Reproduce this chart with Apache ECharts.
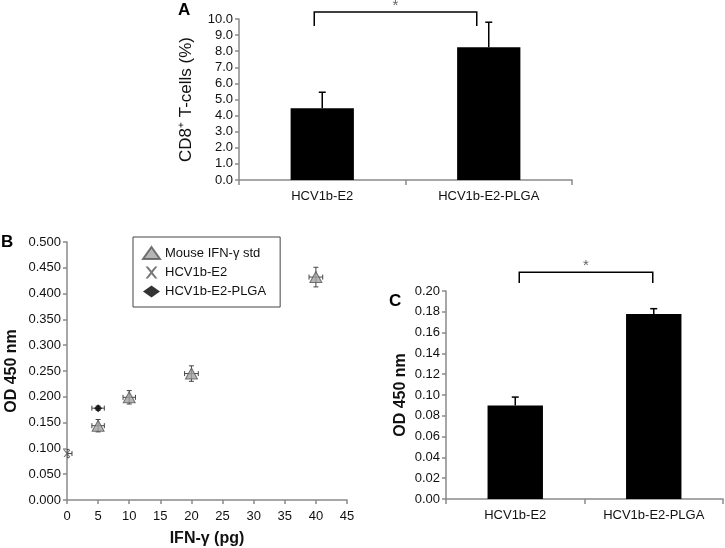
<!DOCTYPE html>
<html>
<head>
<meta charset="utf-8">
<script src="https://cdn.jsdelivr.net/npm/echarts@6/dist/echarts.min.js"></script>
<style>html,body{margin:0;padding:0;background:#fff}#c{width:725px;height:548px}</style>
</head>
<body>
<div id="c"></div>
<script>
// ---- Panel A data ----
const A_categories = ['HCV1b-E2', 'HCV1b-E2-PLGA'];
const A_values = [4.45, 8.25];
const A_errors = [1.0, 1.55];
const A_bracket = [10.43, 9.57]; // top level, drop level
const A_ticks = [0, 10, 1];

// ---- Panel B data ----
const B_stdX = [5, 10, 20, 40];
const B_stdY = [0.144, 0.199, 0.245, 0.432];
const B_stdXErr = [1.0, 1.0, 1.1, 1.1];
const B_stdYErr = [0.012, 0.013, 0.015, 0.019];
const B_e2X = [0];
const B_e2Y = [0.090];
const B_e2XErr = [0.8];
const B_e2YErr = [0.008];
const B_plgaX = [5];
const B_plgaY = [0.178];
const B_plgaXErr = [1.0];
const B_plgaYErr = [0.004];
const B_names = ['Mouse IFN-\u03b3 std', 'HCV1b-E2', 'HCV1b-E2-PLGA'];

// ---- Panel C data ----
const C_categories = ['HCV1b-E2', 'HCV1b-E2-PLGA'];
const C_values = [0.090, 0.178];
const C_errors = [0.008, 0.005];
const C_bracket = [0.218, 0.2077];

const FONT = "'Liberation Sans', Arial, sans-serif";
const AX = '#8a8a8a';
const TXT = '#111';

function zip(xs, ys, xe, ye) { return xs.map((x, i) => [x, ys[i], xe[i], ye[i]]); }

function barErr(api) {
  const i = api.value(0), v = api.value(1), e = api.value(2);
  const p0 = api.coord([i, v]);
  const p1 = api.coord([i, v + e]);
  return { type: 'group', children: [
    { type: 'line', shape: { x1: p0[0], y1: p0[1], x2: p1[0], y2: p1[1] }, style: { stroke: '#000', lineWidth: 1.5 } },
    { type: 'line', shape: { x1: p1[0] - 3.5, y1: p1[1], x2: p1[0] + 3.5, y2: p1[1] }, style: { stroke: '#000', lineWidth: 1.5 } }
  ]};
}
function bracket(offL, offR) {
  return function (params, api) {
    const top = api.value(0), low = api.value(1);
    const a = api.coord([0, low]), b = api.coord([0, top]);
    const c = api.coord([1, top]), d = api.coord([1, low]);
    const xl = a[0] + offL, xr = d[0] + offR;
    return { type: 'group', children: [
      { type: 'polyline', shape: { points: [[xl, a[1]], [xl, b[1]], [xr, c[1]], [xr, d[1]]] }, style: { stroke: '#000', lineWidth: 1.5, fill: null } },
      { type: 'text', x: (xl + xr) / 2, y: b[1] + 1, style: { text: '*', fill: '#666', font: '15px ' + FONT, align: 'center', verticalAlign: 'bottom' } }
    ]};
  };
}
function xyErr(params, api) {
  const x = api.value(0), y = api.value(1), ex = api.value(2), ey = api.value(3);
  const L = api.coord([x - ex, y]), R = api.coord([x + ex, y]);
  const T = api.coord([x, y + ey]), B = api.coord([x, y - ey]);
  const s = { stroke: '#444', lineWidth: 1 };
  const k = 2.5;
  return { type: 'group', children: [
    { type: 'line', shape: { x1: L[0], y1: L[1], x2: R[0], y2: R[1] }, style: s },
    { type: 'line', shape: { x1: L[0], y1: L[1] - k, x2: L[0], y2: L[1] + k }, style: s },
    { type: 'line', shape: { x1: R[0], y1: R[1] - k, x2: R[0], y2: R[1] + k }, style: s },
    { type: 'line', shape: { x1: T[0], y1: T[1], x2: B[0], y2: B[1] }, style: s },
    { type: 'line', shape: { x1: T[0] - k, y1: T[1], x2: T[0] + k, y2: T[1] }, style: s },
    { type: 'line', shape: { x1: B[0] - k, y1: B[1], x2: B[0] + k, y2: B[1] }, style: s }
  ]};
}

const axisLine = { show: true, lineStyle: { color: AX, width: 1.5 } };
const axisTick = { show: true, length: 4, lineStyle: { color: AX, width: 1.5 } };
const lbl = (fmt) => ({ color: TXT, fontSize: 13, fontFamily: FONT, formatter: fmt });

const XSYM = 'path://M0,0 L2,0 L5,3.6 L8,0 L10,0 L6,5 L10,10 L8,10 L5,6.4 L2,10 L0,10 L4,5 Z';

const option = {
  animation: false,
  textStyle: { fontFamily: FONT },
  grid: [
    { left: 239, right: 153, top: 19, bottom: 368 },
    { left: 67, right: 378, top: 242, bottom: 47.5 },
    { left: 446, right: 2, top: 291, bottom: 49 }
  ],
  legend: {
    left: 133, top: 237, orient: 'vertical',
    data: B_names,
    borderColor: '#444', borderWidth: 1, borderRadius: 0,
    padding: [9, 14, 9, 9], itemGap: 6, itemWidth: 17, itemHeight: 12,
    textStyle: { fontSize: 13, color: TXT, fontFamily: FONT }
  },
  xAxis: [
    { gridIndex: 0, type: 'category', data: A_categories, axisLine, axisTick: { ...axisTick, length: 5 }, axisLabel: { ...lbl(), margin: 10 } },
    { gridIndex: 1, type: 'value', min: 0, max: 45, interval: 5, splitLine: { show: false }, axisLine, axisTick, axisLabel: { ...lbl(), margin: 10 },
      name: 'IFN-\u03b3 (pg)', nameLocation: 'middle', nameGap: 31, nameTextStyle: { fontSize: 16, fontWeight: 'bold', color: TXT, fontFamily: FONT } },
    { gridIndex: 2, type: 'category', data: C_categories, axisLine, axisTick: { ...axisTick, length: 5 }, axisLabel: { ...lbl(), margin: 10 } }
  ],
  yAxis: [
    { gridIndex: 0, type: 'value', min: A_ticks[0], max: A_ticks[1], interval: A_ticks[2], splitLine: { show: false }, axisLine, axisTick,
      axisLabel: { ...lbl(v => v.toFixed(1)), margin: 6 },
      name: 'CD8\u207a T-cells (%)', nameLocation: 'middle', nameGap: 44, nameTextStyle: { fontSize: 17, color: TXT, fontFamily: FONT } },
    { gridIndex: 1, type: 'value', min: 0, max: 0.5, interval: 0.05, splitLine: { show: false }, axisLine, axisTick,
      axisLabel: { ...lbl(v => v.toFixed(3)), margin: 6 },
      name: 'OD 450 nm', nameLocation: 'middle', nameGap: 47, nameTextStyle: { fontSize: 16, fontWeight: 'bold', color: TXT, fontFamily: FONT } },
    { gridIndex: 2, type: 'value', min: 0, max: 0.2, interval: 0.02, splitLine: { show: false }, axisLine, axisTick,
      axisLabel: { ...lbl(v => v.toFixed(2)), margin: 6 },
      name: 'OD 450 nm', nameLocation: 'middle', nameGap: 37, nameTextStyle: { fontSize: 16, fontWeight: 'bold', color: TXT, fontFamily: FONT } }
  ],
  series: [
    { type: 'bar', xAxisIndex: 0, yAxisIndex: 0, data: A_values, barWidth: '38%', itemStyle: { color: '#000' } },
    { type: 'custom', xAxisIndex: 0, yAxisIndex: 0, data: A_values.map((v, i) => [i, v, A_errors[i]]), renderItem: (p, api) => barErr(api), clip: false, z: 3 },
    { type: 'custom', xAxisIndex: 0, yAxisIndex: 0, data: [A_bracket], renderItem: bracket(-8, -12), clip: false, encode: { y: [0, 1] } },

    { type: 'bar', xAxisIndex: 2, yAxisIndex: 2, data: C_values, barWidth: '40%', itemStyle: { color: '#000' } },
    { type: 'custom', xAxisIndex: 2, yAxisIndex: 2, data: C_values.map((v, i) => [i, v, C_errors[i]]), renderItem: (p, api) => barErr(api), clip: false, z: 3 },
    { type: 'custom', xAxisIndex: 2, yAxisIndex: 2, data: [C_bracket], renderItem: bracket(4, -1), clip: false, encode: { y: [0, 1] } },

    { type: 'custom', xAxisIndex: 1, yAxisIndex: 1, data: zip(B_stdX, B_stdY, B_stdXErr, B_stdYErr), renderItem: xyErr, clip: true },
    { type: 'custom', xAxisIndex: 1, yAxisIndex: 1, data: zip(B_e2X, B_e2Y, B_e2XErr, B_e2YErr), renderItem: xyErr, clip: true },
    { type: 'custom', xAxisIndex: 1, yAxisIndex: 1, data: zip(B_plgaX, B_plgaY, B_plgaXErr, B_plgaYErr), renderItem: xyErr, clip: true },
    { name: B_names[0], type: 'scatter', xAxisIndex: 1, yAxisIndex: 1, data: B_stdX.map((x, i) => [x, B_stdY[i]]), symbol: 'triangle', symbolSize: [12, 11],
      itemStyle: { color: '#a3a3a3', borderColor: '#555', borderWidth: 1 }, z: 4 },
    { name: B_names[1], type: 'scatter', xAxisIndex: 1, yAxisIndex: 1, data: B_e2X.map((x, i) => [x, B_e2Y[i]]), symbol: XSYM, symbolSize: 7,
      itemStyle: { color: '#555' }, z: 4 },
    { name: B_names[2], type: 'scatter', xAxisIndex: 1, yAxisIndex: 1, data: B_plgaX.map((x, i) => [x, B_plgaY[i]]), symbol: 'diamond', symbolSize: 8,
      itemStyle: { color: '#000' }, z: 4 }
  ],
  graphic: [
    { type: 'text', left: 178, top: 2, style: { text: 'A', font: 'bold 17px ' + FONT, fill: '#000' } },
    { type: 'text', left: 1, top: 234, style: { text: 'B', font: 'bold 17px ' + FONT, fill: '#000' } },
    { type: 'text', left: 389, top: 293, style: { text: 'C', font: 'bold 17px ' + FONT, fill: '#000' } }
  ]
};
const chart = echarts.init(document.getElementById('c'), null, { renderer: 'canvas' });
chart.setOption(option);
</script>
</body>
</html>
